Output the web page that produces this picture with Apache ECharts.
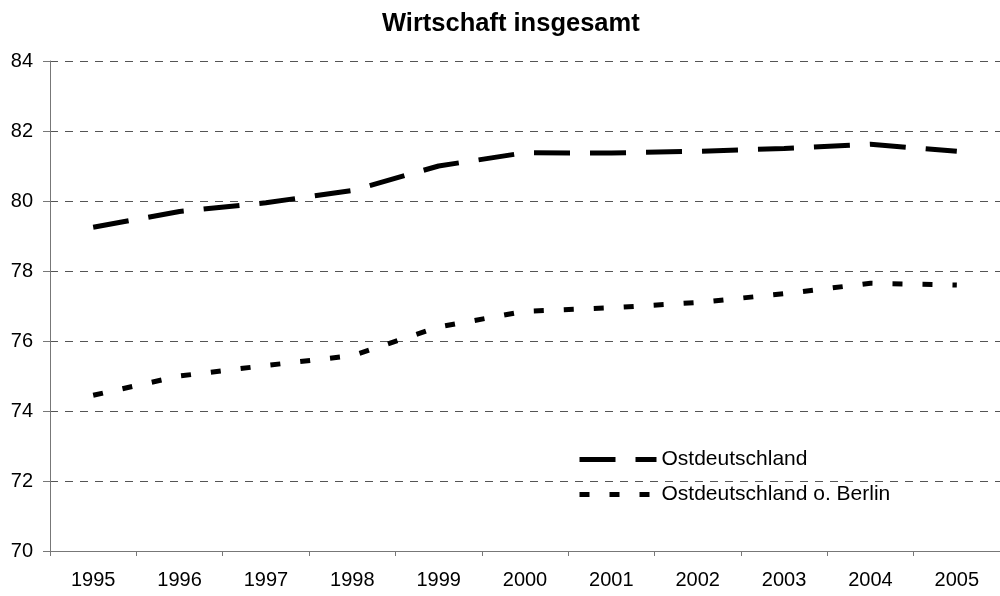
<!DOCTYPE html>
<html>
<head>
<meta charset="utf-8">
<script src="https://cdn.jsdelivr.net/npm/echarts@6/dist/echarts.min.js"></script>
<style>
  html, body { margin: 0; padding: 0; background: #fff; }
  #chart { width: 1000px; height: 596px; }
</style>
</head>
<body>
<div id="chart"></div>
<script>
// Jahre
var years = ['1995', '1996', '1997', '1998', '1999', '2000', '2001', '2002', '2003', '2004', '2005']
// Ostdeutschland
var ostData = [79.25, 79.7, 79.95, 80.3, 81.0, 81.38, 81.37, 81.42, 81.5, 81.62, 81.42]
// Ostdeutschland ohne Berlin
var ostOhneBerlinData = [74.45, 75.0, 75.3, 75.58, 76.4, 76.85, 76.95, 77.1, 77.35, 77.65, 77.6]

var chart = echarts.init(document.getElementById('chart'))
var font = 'Liberation Sans, Arial, sans-serif'

chart.setOption({
    backgroundColor: '#fff',
    animation: false,
    title: {
        text: 'Wirtschaft insgesamt',
        left: 377,
        top: 6,
        textStyle: { fontFamily: font, fontSize: 25.5, fontWeight: 'bold', color: '#000' }
    },
    legend: {
        orient: 'vertical',
        left: 572,
        top: 444,
        itemWidth: 77,
        itemHeight: 20,
        itemGap: 14,
        itemStyle: { opacity: 0 },
        textStyle: { fontFamily: font, fontSize: 21, color: '#000' },
        data: [
            { name: 'Ostdeutschland', lineStyle: { width: 5, type: [36, 20] } },
            { name: 'Ostdeutschland o. Berlin', lineStyle: { width: 5, type: [10, 20] } }
        ]
    },
    grid: {
        left: 50,
        right: -7,
        top: 61,
        bottom: 45,
        containLabel: false
    },
    xAxis: {
        type: 'category',
        data: years,
        boundaryGap: true,
        axisLine: { lineStyle: { color: '#777', width: 1 } },
        axisTick: { show: true, length: 5, lineStyle: { color: '#777' } },
        axisLabel: { fontFamily: font, fontSize: 20, color: '#000', margin: 19 }
    },
    yAxis: {
        type: 'value',
        min: 70,
        max: 84,
        interval: 2,
        axisLine: { show: true, lineStyle: { color: '#777', width: 1 } },
        axisTick: { show: true, length: 7, lineStyle: { color: '#777' } },
        axisLabel: { fontFamily: font, fontSize: 20, color: '#000', margin: 17 },
        splitLine: { lineStyle: { color: '#555', type: [8, 7], width: 1 } }
    },
    series: [
        {
            name: 'Ostdeutschland',
            type: 'line',
            symbol: 'none',
            itemStyle: { color: '#000' },
            lineStyle: { color: '#000', width: 5, type: [36, 20] },
            data: ostData
        },
        {
            name: 'Ostdeutschland o. Berlin',
            type: 'line',
            symbol: 'none',
            itemStyle: { color: '#000' },
            lineStyle: { color: '#000', width: 5, type: [10, 20] },
            data: ostOhneBerlinData
        }
    ]
})
</script>
</body>
</html>
